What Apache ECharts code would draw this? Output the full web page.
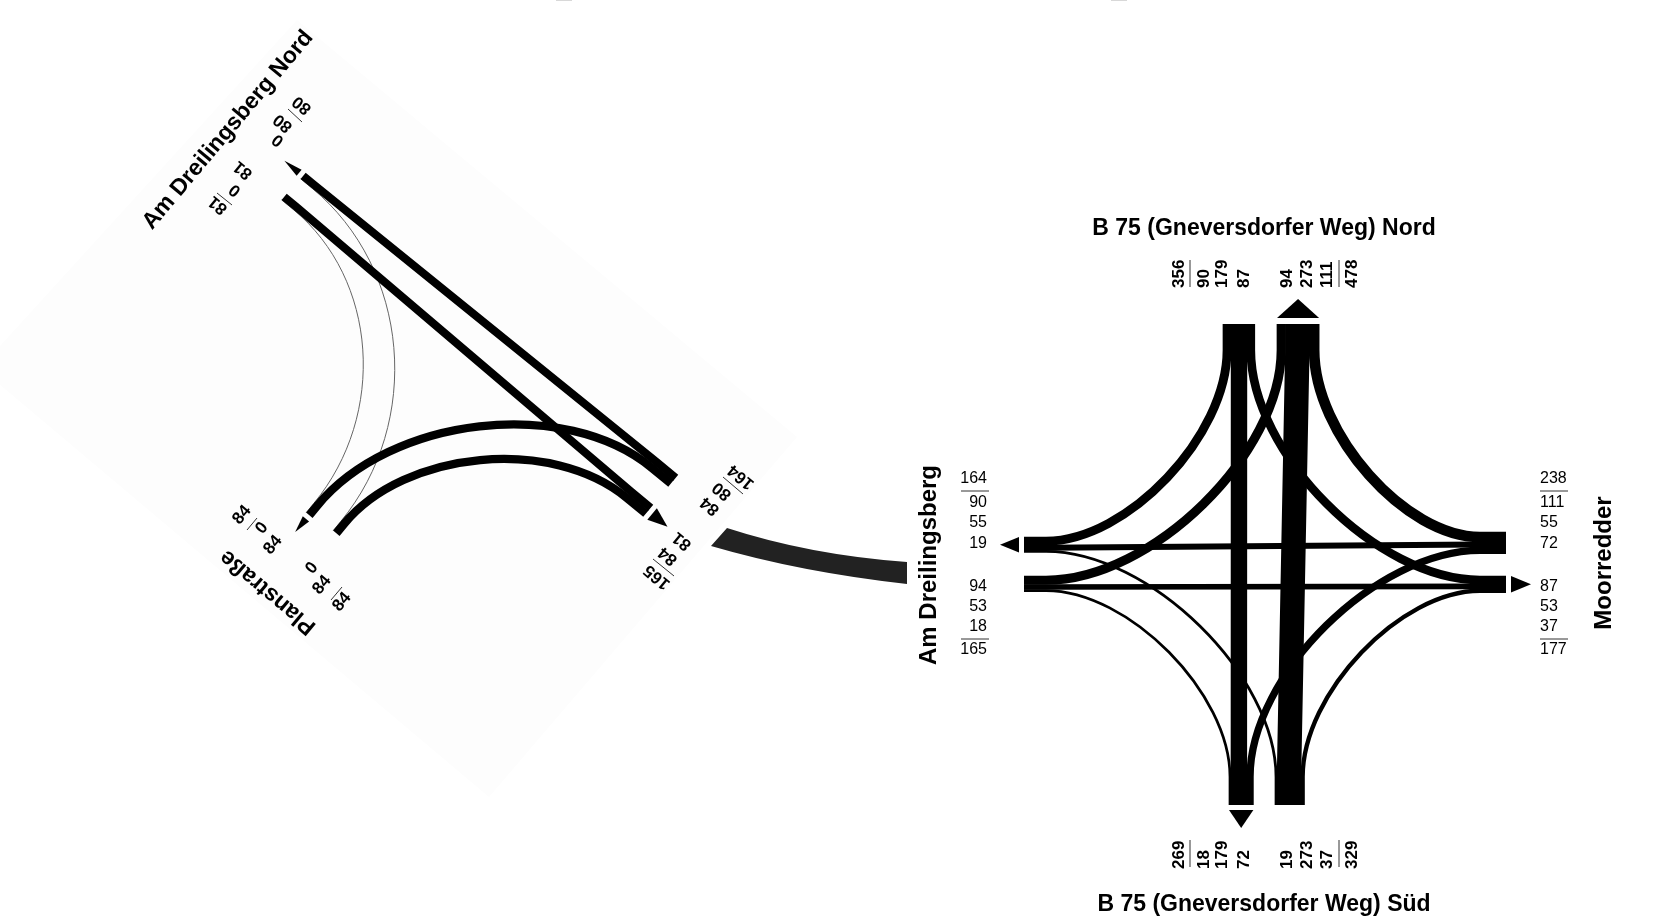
<!DOCTYPE html>
<html>
<head>
<meta charset="utf-8">
<title>Knotenstrombelastung</title>
<style>
  html, body { margin: 0; height: 100%; background: #fff; }
  #chart { width: 1665px; height: 916px; }
</style>
<script src="https://cdn.jsdelivr.net/npm/echarts@6/dist/echarts.min.js"></script>
</head>
<body>
<div id="chart"></div>
<script>
// turning volumes per approach, in the order they are printed next to the arm
var northIn = [90, 179, 87];
var northOut = [94, 273, 111];
var southOut = [18, 179, 72];
var southIn = [19, 273, 37];
var westOut = [90, 55, 19];
var westIn = [94, 53, 18];
var eastIn = [111, 55, 72];
var eastOut = [87, 53, 37];

var nordIn = [81, 0];
var nordOut = [0, 80];
var planOut = [0, 84];
var planIn = [0, 84];
var seIn = [80, 84];
var seOut = [81, 84];

var armNames = ['B 75 (Gneversdorfer Weg) Nord', 'B 75 (Gneversdorfer Weg) Süd', 'Am Dreilingsberg', 'Moorredder', 'Am Dreilingsberg Nord', 'Planstraße'];

// which lane feeds which lane
var movements = [
  ['northIn', 0, 'westOut', 0], ['northIn', 1, 'southOut', 1], ['northIn', 2, 'eastOut', 0],
  ['southIn', 0, 'westOut', 2], ['southIn', 1, 'northOut', 1], ['southIn', 2, 'eastOut', 2],
  ['westIn', 0, 'northOut', 0], ['westIn', 1, 'eastOut', 1], ['westIn', 2, 'southOut', 0],
  ['eastIn', 0, 'northOut', 2], ['eastIn', 1, 'westOut', 1], ['eastIn', 2, 'southOut', 2],
  ['nordIn', 0, 'seOut', 0], ['nordIn', 1, 'planOut', 0],
  ['planIn', 0, 'nordOut', 0], ['planIn', 1, 'seOut', 1],
  ['seIn', 0, 'nordOut', 1], ['seIn', 1, 'planOut', 1]
];

var U = [0.772, 0.636];
var V = [-0.636, 0.772];
var minus = function (a) { return [-a[0], -a[1]]; };
var DEG = Math.PI / 180;

// drawing layout: where each approach starts, how its lanes stack, which way is inward
var blocks = {
  northIn:  { values: northIn,  at: [1223, 324], stack: [1, 0],  inward: [0, 1],  stub: 26, bend: 0.45 },
  northOut: { values: northOut, at: [1277, 324], stack: [1, 0],  inward: [0, 1],  stub: 26, bend: 0.45, arrow: [6, 19] },
  southOut: { values: southOut, at: [1229, 805], stack: [1, 0],  inward: [0, -1], stub: 28, bend: 0.45, arrow: [5, 18] },
  southIn:  { values: southIn,  at: [1275, 805], stack: [1, 0],  inward: [0, -1], stub: 28, bend: 0.45 },
  westOut:  { values: westOut,  at: [1024, 537], stack: [0, 1],  inward: [1, 0],  stub: 22, bend: 0.45, arrow: [5, 19] },
  westIn:   { values: westIn,   at: [1024, 576], stack: [0, 1],  inward: [1, 0],  stub: 22, bend: 0.45 },
  eastIn:   { values: eastIn,   at: [1506, 532], stack: [0, 1],  inward: [-1, 0], stub: 26, bend: 0.45 },
  eastOut:  { values: eastOut,  at: [1506, 576], stack: [0, 1],  inward: [-1, 0], stub: 26, bend: 0.45, arrow: [5, 20] },
  nordOut:  { values: nordOut,  at: [300.5, 179], stack: minus(V), inward: U, stub: 15, bend: 0.48, arrow: [5, 19] },
  nordIn:   { values: nordIn,   at: [286.5, 194], stack: V, inward: U, stub: 15, bend: 0.48 },
  planOut:  { values: planOut,  at: [306, 512.5], stack: U, inward: minus(V), stub: 12, bend: 0.48, arrow: [5, 17] },
  planIn:   { values: planIn,   at: [333, 530.5], stack: U, inward: minus(V), stub: 12, bend: 0.48 },
  seIn:     { values: seIn,     at: [678, 475], stack: V, inward: minus(U), stub: 25, bend: 0.48 },
  seOut:    { values: seOut,    at: [653, 505], stack: V, inward: minus(U), stub: 25, bend: 0.48, arrow: [5, 20] }
};

// where the printed numbers go: one spot per lane, one for the sum, then the rule
var up = 90 * DEG, back = 140 * DEG, slant = 50 * DEG;
var numberSpots = {
  northIn:  { rot: up, align: 'left', bold: true, lanes: [[1204, 288], [1222, 288], [1244, 288]], sum: [1179, 288], rule: [[1190, 260], [1190, 287]] },
  northOut: { rot: up, align: 'left', bold: true, lanes: [[1287, 288], [1307, 288], [1327, 288]], sum: [1352, 288], rule: [[1339, 260], [1339, 287]] },
  southOut: { rot: up, align: 'left', bold: true, lanes: [[1204, 869], [1222, 869], [1244, 869]], sum: [1179, 869], rule: [[1190, 840], [1190, 867]] },
  southIn:  { rot: up, align: 'left', bold: true, lanes: [[1287, 869], [1307, 869], [1327, 869]], sum: [1352, 869], rule: [[1339, 840], [1339, 867]] },
  westOut:  { rot: 0, align: 'right', lanes: [[987, 503], [987, 523], [987, 544]], sum: [987, 479], rule: [[961, 491], [989, 491]] },
  westIn:   { rot: 0, align: 'right', lanes: [[987, 587], [987, 607], [987, 627]], sum: [987, 650], rule: [[961, 639], [989, 639]] },
  eastIn:   { rot: 0, align: 'left', lanes: [[1540, 503], [1540, 523], [1540, 544]], sum: [1540, 479], rule: [[1540, 491], [1568, 491]] },
  eastOut:  { rot: 0, align: 'left', lanes: [[1540, 587], [1540, 607], [1540, 627]], sum: [1540, 650], rule: [[1540, 639], [1568, 639]] },
  nordOut:  { rot: back, align: 'center', bold: true, lanes: [[278, 140], [283, 123]], sum: [302, 105], rule: [[288, 109], [302, 122]] },
  nordIn:   { rot: back, align: 'center', bold: true, lanes: [[243, 170], [235, 190]], sum: [218, 205], rule: [[217, 193], [232, 205]] },
  planOut:  { rot: slant, align: 'center', bold: true, lanes: [[262, 528], [273, 545]], sum: [242, 515], rule: [[247, 530], [257, 518]] },
  planIn:   { rot: slant, align: 'center', bold: true, lanes: [[312, 568], [322, 585]], sum: [342, 602], rule: [[331, 600], [342, 587]] },
  seIn:     { rot: back, align: 'center', bold: true, lanes: [[722, 491], [710, 506]], sum: [741, 477], rule: [[723, 477], [743, 494]] },
  seOut:    { rot: back, align: 'center', bold: true, lanes: [[682, 541], [668, 556]], sum: [657, 577], rule: [[653, 559], [674, 576]] }
};

var nameSpots = [
  { at: [1264, 229], rot: 0, size: 23 },
  { at: [1264, 905], rot: 0, size: 23 },
  { at: [929, 565], rot: up, size: 24 },
  { at: [1604, 563], rot: up, size: 24 },
  { at: [228, 130], rot: slant, size: 23 },
  { at: [268, 592], rot: back, size: 23 }
];

var panel = [[297, 20], [-20, 368], [489, 797], [797, 437]];
var topMarks = [[556, 572], [1111, 1127]];

var laneWidth = function (v) { return 0.085 * v + 0.5; };
var sum = function (a) { return a.reduce(function (s, v) { return s + v; }, 0); };
var blockWidth = function (b) { return sum(b.values.map(laneWidth)); };
var shift = function (p, d, n) { return [p[0] + d[0] * n, p[1] + d[1] * n]; };

function laneStart(b, i) {
  var off = sum(b.values.slice(0, i).map(laneWidth)) + laneWidth(b.values[i]) / 2;
  return shift(b.at, b.stack, off);
}

function movementPath(m, api) {
  var a = blocks[m[0]], c = blocks[m[2]];
  var p0 = laneStart(a, m[1]), p3 = laneStart(c, m[3]);
  var p1 = shift(p0, a.inward, a.stub), p2 = shift(p3, c.inward, c.stub);
  var s = function (p) { return api.coord(p).join(' '); };
  var cross = a.inward[0] * c.inward[1] - a.inward[1] * c.inward[0];
  if (Math.abs(cross) < 0.01) {
    return 'M' + s(p0) + 'L' + s(p1) + 'L' + s(p2) + 'L' + s(p3);
  }
  // tangents of both stubs meet at a corner, the curve is pulled towards it
  var dx = p2[0] - p1[0], dy = p2[1] - p1[1];
  var t = (dx * c.inward[1] - dy * c.inward[0]) / cross;
  var corner = shift(p1, a.inward, t);
  var k = a.values[m[1]] === 0 ? 0.54 : a.bend;
  var c1 = [p1[0] + (corner[0] - p1[0]) * k, p1[1] + (corner[1] - p1[1]) * k];
  var c2 = [p2[0] + (corner[0] - p2[0]) * k, p2[1] + (corner[1] - p2[1]) * k];
  return 'M' + s(p0) + 'L' + s(p1) + 'C' + s(c1) + ' ' + s(c2) + ' ' + s(p2) + 'L' + s(p3);
}

var outBlocks = Object.keys(blocks).filter(function (k) { return blocks[k].arrow; });
var numberRows = [];
Object.keys(numberSpots).forEach(function (k) {
  var spot = numberSpots[k];
  blocks[k].values.forEach(function (v, i) {
    numberRows.push({ text: String(v), at: spot.lanes[i], rot: spot.rot, align: spot.align, bold: spot.bold });
  });
  numberRows.push({ text: String(sum(blocks[k].values)), at: spot.sum, rot: spot.rot, align: spot.align, bold: spot.bold });
});
var ruleKeys = Object.keys(numberSpots);

var chart = echarts.init(document.getElementById('chart'));

var option = {
  animation: false,
  backgroundColor: '#ffffff',
  grid: { left: 0, right: 0, top: 0, bottom: 0 },
  xAxis: { type: 'value', min: 0, max: 1665, show: false },
  yAxis: { type: 'value', min: 0, max: 916, inverse: true, show: false },
  series: [
    {
      type: 'custom', name: 'panel', coordinateSystem: 'cartesian2d', clip: false, silent: true,
      data: [[0]],
      renderItem: function (params, api) {
        return { type: 'polygon', shape: { points: panel.map(function (p) { return api.coord(p); }) }, style: { fill: '#fdfdfd' } };
      }
    },
    {
      type: 'custom', name: 'Rand', coordinateSystem: 'cartesian2d', clip: false, silent: true,
      data: topMarks.map(function (m) { return [m[0]]; }),
      renderItem: function (params, api) {
        var m = topMarks[params.dataIndex];
        var a = api.coord([m[0], 0]), b = api.coord([m[1], 1]);
        return { type: 'rect', shape: { x: a[0], y: a[1], width: b[0] - a[0], height: b[1] - a[1] }, style: { fill: '#d8d8d8' } };
      }
    },
    {
      type: 'custom', name: 'Verbindung', coordinateSystem: 'cartesian2d', clip: false, silent: true,
      data: [[0]],
      renderItem: function (params, api) {
        var s = function (x, y) { return api.coord([x, y]).join(' '); };
        var d = 'M' + s(727, 528) + 'Q' + s(810, 555) + ' ' + s(907, 562) + 'L' + s(907, 584) + 'Q' + s(800, 572) + ' ' + s(711, 546) + 'Z';
        return { type: 'path', shape: { pathData: d }, style: { fill: '#222222' } };
      }
    },
    {
      type: 'custom', name: 'Ströme', coordinateSystem: 'cartesian2d', clip: false, silent: true,
      data: movements.map(function (m) { return [blocks[m[0]].values[m[1]]]; }),
      renderItem: function (params, api) {
        var m = movements[params.dataIndex];
        var v = blocks[m[0]].values[m[1]];
        return {
          type: 'path',
          z2: v === 0 ? 0 : 1,
          shape: { pathData: movementPath(m, api) },
          // a little extra width closes the hairline seams between lanes
          style: { fill: 'none', stroke: v === 0 ? '#666666' : '#000000', lineWidth: v === 0 ? 1 : laneWidth(v) + 0.7 }
        };
      }
    },
    {
      type: 'custom', name: 'Pfeile', coordinateSystem: 'cartesian2d', clip: false, silent: true,
      data: outBlocks.map(function (k) { return [sum(blocks[k].values)]; }),
      renderItem: function (params, api) {
        var b = blocks[outBlocks[params.dataIndex]];
        var w = blockWidth(b);
        var mid = shift(shift(b.at, b.stack, w / 2), b.inward, -b.arrow[0]);
        var tip = shift(mid, b.inward, -b.arrow[1]);
        var pts = [shift(mid, b.stack, -w / 2), shift(mid, b.stack, w / 2), tip];
        return { type: 'polygon', shape: { points: pts.map(function (p) { return api.coord(p); }) }, style: { fill: '#000000' } };
      }
    },
    {
      type: 'custom', name: 'Linien', coordinateSystem: 'cartesian2d', clip: false, silent: true,
      data: ruleKeys.map(function () { return [0]; }),
      renderItem: function (params, api) {
        var r = numberSpots[ruleKeys[params.dataIndex]].rule;
        var a = api.coord(r[0]), b = api.coord(r[1]);
        return { type: 'line', shape: { x1: a[0], y1: a[1], x2: b[0], y2: b[1] }, style: { stroke: '#333333', lineWidth: 1 } };
      }
    },
    {
      type: 'custom', name: 'Zahlen', coordinateSystem: 'cartesian2d', clip: false, silent: true,
      data: numberRows.map(function (r) { return [Number(r.text)]; }),
      renderItem: function (params, api) {
        var r = numberRows[params.dataIndex];
        var p = api.coord(r.at);
        return {
          type: 'text', x: p[0], y: p[1], rotation: r.rot,
          style: {
            text: r.text, fill: '#000', align: r.align, verticalAlign: 'middle',
            font: (r.bold ? 'bold 17px ' : '16px ') + '"Liberation Sans"'
          }
        };
      }
    },
    {
      type: 'custom', name: 'Namen', coordinateSystem: 'cartesian2d', clip: false, silent: true,
      data: armNames.map(function (n, i) { return [i]; }),
      renderItem: function (params, api) {
        var spot = nameSpots[params.dataIndex];
        var p = api.coord(spot.at);
        return {
          type: 'text', x: p[0], y: p[1], rotation: spot.rot,
          style: {
            text: armNames[params.dataIndex], fill: '#000', align: 'center', verticalAlign: 'middle',
            font: 'bold ' + spot.size + 'px "Liberation Sans"'
          }
        };
      }
    }
  ]
};

option && chart.setOption(option);
window.onresize = function () { chart.resize(); };
</script>
</body>
</html>
